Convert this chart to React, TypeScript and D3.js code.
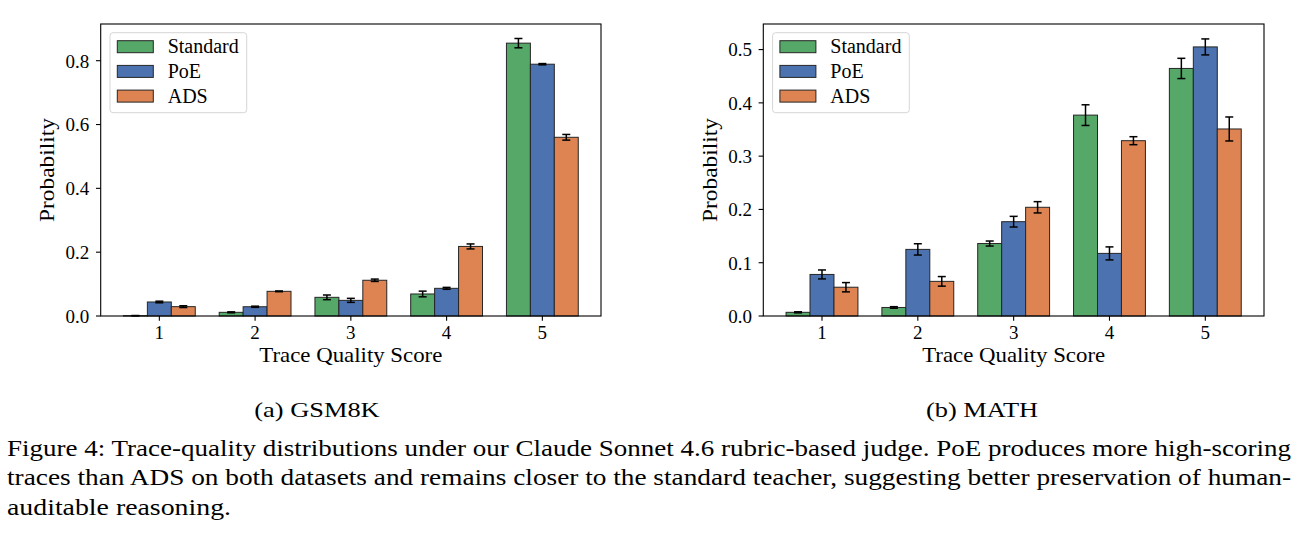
import React, { useEffect, useRef } from "react";
import * as d3 from "d3";

// score categories
const scores = [1, 2, 3, 4, 5];
const seriesNames = ["Standard", "PoE", "ADS"];
const seriesColors = ["#55a868", "#4c72b0", "#dd8452"];

// GSM8K
const gsmStandard = [0.001, 0.0115, 0.0585, 0.069, 0.855];
const gsmStandardErr = [0.0005, 0.0015, 0.0073, 0.0089, 0.0146];
const gsmPoE = [0.0439, 0.029, 0.049, 0.0867, 0.789];
const gsmPoEErr = [0.0025, 0.0018, 0.0063, 0.003, 0.002];
const gsmADS = [0.0293, 0.0773, 0.112, 0.218, 0.56];
const gsmADSErr = [0.0028, 0.0012, 0.0037, 0.0078, 0.0089];
const gsmYTicks = [0, 0.2, 0.4, 0.6, 0.8];

// MATH
const mathStandard = [0.0069, 0.016, 0.136, 0.377, 0.4646];
const mathStandardErr = [0.001, 0.0015, 0.0047, 0.0194, 0.019];
const mathPoE = [0.078, 0.125, 0.177, 0.1175, 0.505];
const mathPoEErr = [0.0084, 0.0106, 0.01, 0.0122, 0.015];
const mathADS = [0.054, 0.065, 0.204, 0.329, 0.351];
const mathADSErr = [0.0087, 0.009, 0.0106, 0.0075, 0.0225];
const mathYTicks = [0, 0.1, 0.2, 0.3, 0.4, 0.5];

const subCaptions = ["(a) GSM8K", "(b) MATH"];
const captionLines = [
  "Figure 4: Trace-quality distributions under our Claude Sonnet 4.6 rubric-based judge. PoE produces more high-scoring",
  "traces than ADS on both datasets and remains closer to the standard teacher, suggesting better preservation of human-",
  "auditable reasoning.",
];

const FONT = "'Liberation Serif', 'Times New Roman', serif";

// widen a text element horizontally (the reference type is set wider than Times)
const stretch = (sel, target) => {
  sel.attr("textLength", target).attr("lengthAdjust", "spacingAndGlyphs");
};

const App = () => {
  const svgRef = useRef(null);

  useEffect(() => {
    if (!svgRef.current) return;
    const svg = d3.select(svgRef.current);
    svg.selectAll("*").remove();

    const panels = [
      {
        left: 100.7,
        right: 601,
        yMax: 0.915,
        ticks: gsmYTicks,
        values: [gsmStandard, gsmPoE, gsmADS],
        errs: [gsmStandardErr, gsmPoEErr, gsmADSErr],
      },
      {
        left: 763.3,
        right: 1264,
        yMax: 0.548,
        ticks: mathYTicks,
        values: [mathStandard, mathPoE, mathADS],
        errs: [mathStandardErr, mathPoEErr, mathADSErr],
      },
    ];
    const top = 24;
    const bottom = 316;
    const barW = 0.25;

    panels.forEach((p) => {
      const x = d3.scaleLinear().domain([0.3875, 5.6125]).range([p.left, p.right]);
      const y = d3.scaleLinear().domain([0, p.yMax]).range([bottom, top]);
      const g = svg.append("g");

      // bars
      p.values.forEach((vals, si) => {
        const off = (si - 1) * barW;
        g.selectAll(null)
          .data(vals)
          .join("rect")
          .attr("x", (d, i) => x(scores[i] + off - barW / 2))
          .attr("y", (d) => y(d))
          .attr("width", x(barW) - x(0))
          .attr("height", (d) => y(0) - y(d))
          .attr("fill", seriesColors[si])
          .attr("stroke", "#262626")
          .attr("stroke-width", 1);
      });

      // error bars
      p.values.forEach((vals, si) => {
        const off = (si - 1) * barW;
        vals.forEach((v, i) => {
          const cx = x(scores[i] + off);
          const e = p.errs[si][i];
          const eb = g.append("g").attr("stroke", "#000").attr("stroke-width", 1.5);
          eb.append("line").attr("x1", cx).attr("x2", cx).attr("y1", y(v - e)).attr("y2", y(v + e));
          eb.append("line").attr("x1", cx - 4).attr("x2", cx + 4).attr("y1", y(v - e)).attr("y2", y(v - e));
          eb.append("line").attr("x1", cx - 4).attr("x2", cx + 4).attr("y1", y(v + e)).attr("y2", y(v + e));
        });
      });

      // frame
      g.append("rect")
        .attr("x", p.left)
        .attr("y", top)
        .attr("width", p.right - p.left)
        .attr("height", bottom - top)
        .attr("fill", "none")
        .attr("stroke", "#000")
        .attr("stroke-width", 1.1);

      // y ticks
      p.ticks.forEach((t) => {
        g.append("line")
          .attr("x1", p.left - 4.7)
          .attr("x2", p.left)
          .attr("y1", y(t))
          .attr("y2", y(t))
          .attr("stroke", "#000")
          .attr("stroke-width", 1.1);
        g.append("text")
          .attr("x", p.left - 11.4)
          .attr("y", y(t))
          .attr("dy", "0.36em")
          .attr("text-anchor", "end")
          .attr("font-family", FONT)
          .attr("font-size", 19)
          .text(d3.format(".1f")(t));
      });

      // x ticks
      scores.forEach((s) => {
        g.append("line")
          .attr("x1", x(s))
          .attr("x2", x(s))
          .attr("y1", bottom)
          .attr("y2", bottom + 4.7)
          .attr("stroke", "#000")
          .attr("stroke-width", 1.1);
        g.append("text")
          .attr("x", x(s))
          .attr("y", 339)
          .attr("text-anchor", "middle")
          .attr("font-family", FONT)
          .attr("font-size", 19)
          .text(s);
      });

      // axis labels
      g.append("text")
        .attr("x", (p.left + p.right) / 2)
        .attr("y", 362)
        .attr("text-anchor", "middle")
        .attr("font-family", FONT)
        .attr("font-size", 21)
        .text("Trace Quality Score")
        .call(stretch, 183);
      g.append("text")
        .attr("transform", `translate(${p.left - 46.7},${(top + bottom) / 2}) rotate(-90)`)
        .attr("text-anchor", "middle")
        .attr("font-family", FONT)
        .attr("font-size", 21)
        .text("Probability")
        .call(stretch, 104);

      // legend
      const lg = g.append("g").attr("transform", `translate(${p.left + 9.3},${32.7})`);
      lg.append("rect")
        .attr("width", 136.7)
        .attr("height", 80)
        .attr("rx", 3)
        .attr("fill", "#fff")
        .attr("fill-opacity", 0.8)
        .attr("stroke", "#d6d6d6")
        .attr("stroke-width", 1);
      seriesNames.forEach((name, si) => {
        const rowY = 8 + si * 24.7;
        lg.append("rect")
          .attr("x", 7.3)
          .attr("y", rowY)
          .attr("width", 36)
          .attr("height", 12)
          .attr("fill", seriesColors[si])
          .attr("stroke", "#262626")
          .attr("stroke-width", 1);
        lg.append("text")
          .attr("x", 57.7)
          .attr("y", rowY + 12.6)
          .attr("font-family", FONT)
          .attr("font-size", 20)
          .text(name);
      });
    });

    // sub captions
    [317, 982].forEach((cx, i) => {
      const t = svg
        .append("text")
        .attr("x", cx)
        .attr("y", 417)
        .attr("text-anchor", "middle")
        .attr("font-family", FONT)
        .attr("font-size", 22)
        .text(subCaptions[i]);
      stretch(t, t.node().getComputedTextLength() * 1.2);
    });

    // figure caption, first two lines justified to the full width
    const lineEnds = [1284, 1284, 224];
    captionLines.forEach((line, i) => {
      svg
        .append("text")
        .attr("x", 7)
        .attr("y", 456 + i * 29.3)
        .attr("font-family", FONT)
        .attr("font-size", 24)
        .text(line)
        .call(stretch, lineEnds[i]);
    });
  }, []);

  return (
    <svg
      ref={svgRef}
      width={1310}
      height={540}
      style={{ position: "absolute", left: 0, top: 0, background: "#fff" }}
    />
  );
};

export default App;
